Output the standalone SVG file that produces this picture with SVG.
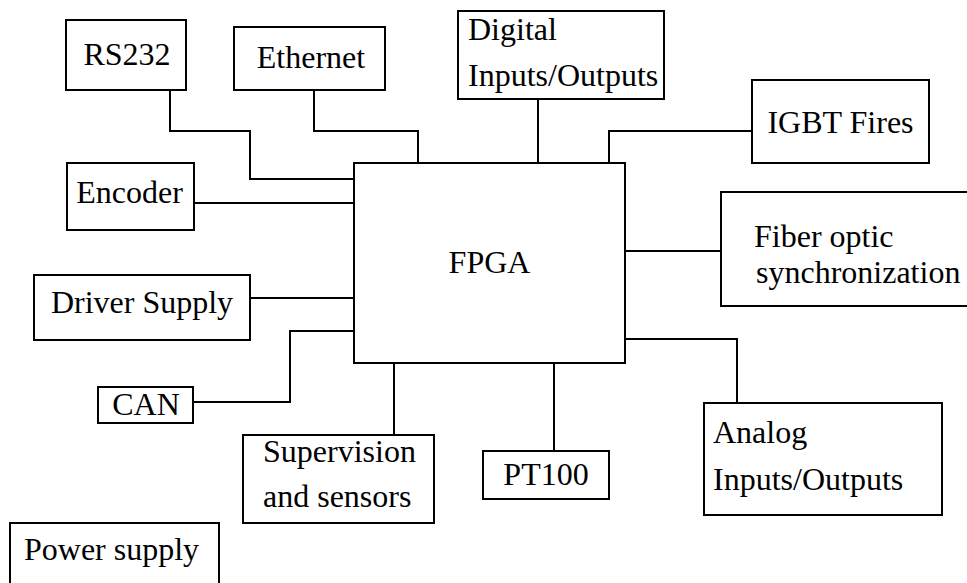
<svg xmlns="http://www.w3.org/2000/svg" width="967" height="583" viewBox="0 0 967 583">
  <style>
    .box { fill: #fff; stroke: #000; stroke-width: 2; }
    .wire { fill: none; stroke: #000; stroke-width: 2; }
    .c { text-anchor: middle; }
  </style>
  <rect width="967" height="583" fill="#fff"/>

  <!-- connectors -->
  <g id="connectors">
    <polyline class="wire" points="170,90 170,131 250,131 250,179 354,179"/>
    <polyline class="wire" points="314,90 314,131 418,131 418,163"/>
    <line class="wire" x1="538" y1="99" x2="538" y2="163"/>
    <polyline class="wire" points="752,131 609,131 609,163"/>
    <line class="wire" x1="194" y1="203" x2="354" y2="203"/>
    <line class="wire" x1="250" y1="298" x2="354" y2="298"/>
    <polyline class="wire" points="193,402 290,402 290,331 354,331"/>
    <line class="wire" x1="625" y1="251" x2="721" y2="251"/>
    <polyline class="wire" points="625,339 737,339 737,403"/>
    <line class="wire" x1="394" y1="363" x2="394" y2="435"/>
    <line class="wire" x1="554" y1="363" x2="554" y2="451"/>
  </g>

  <g font-family="'Liberation Serif', 'DejaVu Serif', serif" font-size="32" fill="#000">
    <g id="fpga">
      <rect class="box" x="354" y="163" width="271" height="200"/>
      <text class="c" x="489.5" y="273">FPGA</text>
    </g>
    <g id="rs232">
      <rect class="box" x="66" y="20" width="120" height="70"/>
      <text class="c" x="127" y="65">RS232</text>
    </g>
    <g id="ethernet">
      <rect class="box" x="234" y="27" width="151" height="63"/>
      <text class="c" x="311" y="68">Ethernet</text>
    </g>
    <g id="digital-io">
      <rect class="box" x="458" y="11" width="206" height="88"/>
      <text x="468" y="40">Digital</text>
      <text x="468" y="86">Inputs/Outputs</text>
    </g>
    <g id="igbt-fires">
      <rect class="box" x="752" y="80" width="177" height="83"/>
      <text class="c" x="840.5" y="133">IGBT Fires</text>
    </g>
    <g id="encoder">
      <rect class="box" x="67" y="163" width="127" height="67"/>
      <text class="c" x="129.5" y="203">Encoder</text>
    </g>
    <g id="driver-supply">
      <rect class="box" x="34" y="275" width="216" height="65"/>
      <text class="c" x="142" y="313">Driver Supply</text>
    </g>
    <g id="fiber-optic">
      <rect class="box" x="721" y="192" width="260" height="114"/>
      <text x="754" y="247">Fiber optic</text>
      <text x="756" y="283">synchronization</text>
    </g>
    <g id="can">
      <rect class="box" x="98" y="387" width="95" height="36"/>
      <text class="c" x="146" y="415">CAN</text>
    </g>
    <g id="supervision">
      <rect class="box" x="243" y="435" width="191" height="88"/>
      <text x="263" y="462">Supervision</text>
      <text x="263" y="507">and sensors</text>
    </g>
    <g id="pt100">
      <rect class="box" x="483" y="451" width="126" height="48"/>
      <text class="c" x="546" y="485">PT100</text>
    </g>
    <g id="analog-io">
      <rect class="box" x="704" y="403" width="238" height="112"/>
      <text x="713" y="443">Analog</text>
      <text x="713" y="490">Inputs/Outputs</text>
    </g>
    <g id="power-supply">
      <rect class="box" x="10" y="523" width="209" height="80"/>
      <text x="24" y="560">Power supply</text>
    </g>
  </g>
</svg>
